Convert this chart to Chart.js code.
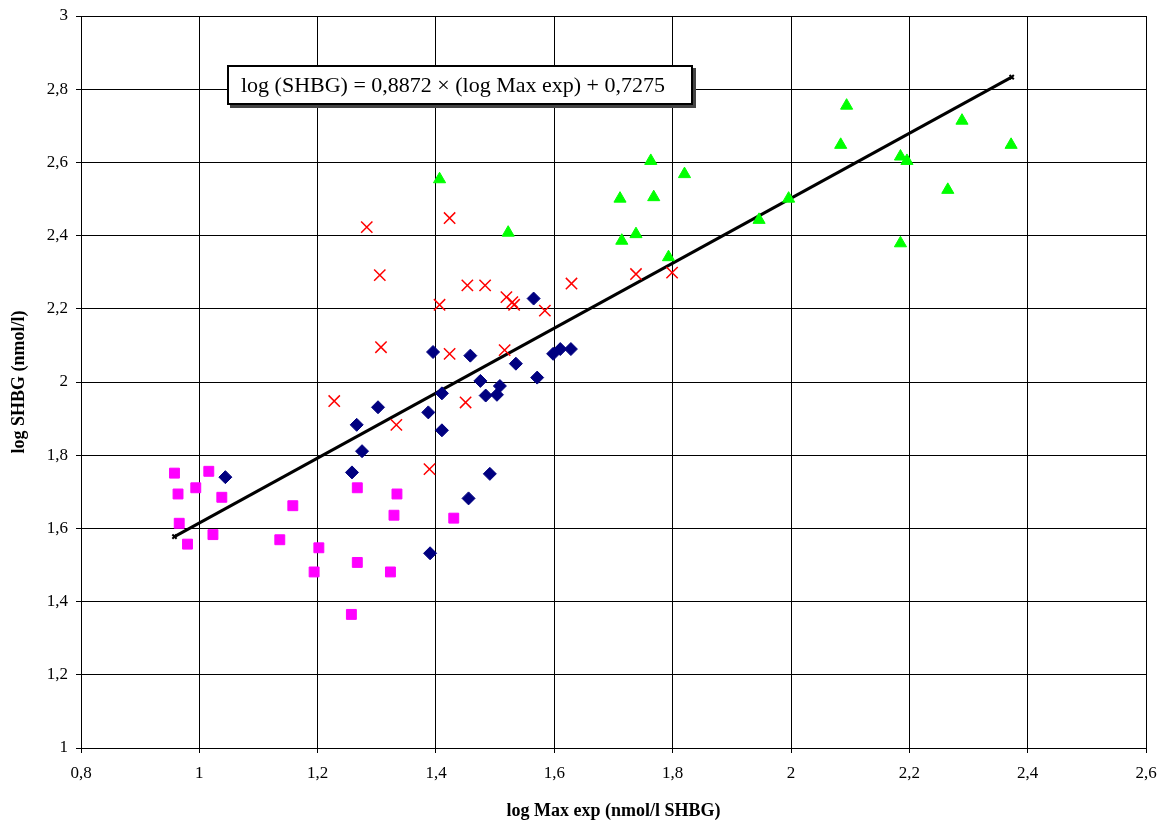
<!DOCTYPE html>
<html>
<head>
<meta charset="utf-8">
<title>log SHBG vs log Max exp</title>
<script src="https://cdn.jsdelivr.net/npm/chart.js@4.4.1/dist/chart.umd.min.js"></script>
<style>
  body { margin: 0; background: #fff; }
  #wrap { position: relative; width: 1165px; height: 823px; }
  #equation {
    position: absolute; left: 227px; top: 65px;
    width: 466px; height: 40px; box-sizing: border-box;
    border: 2px solid #000; background: #fff;
    box-shadow: 3px 3px 0 #444;
    font: 22px "Liberation Serif", "Times New Roman", serif;
    line-height: 36px; padding-left: 12px; white-space: nowrap;
  }
</style>
</head>
<body>
<div id="wrap">
  <canvas id="chart" width="1165" height="823"></canvas>
  <div id="equation">log (SHBG) = 0,8872 × (log Max exp) + 0,7275</div>
</div>
<script>
// squares (magenta)
const squaresX = [0.958, 1.016, 0.994, 0.964, 1.038, 1.158, 1.267, 1.334, 1.329, 0.966,
                  0.980, 1.023, 1.136, 1.202, 1.267, 1.194, 1.323, 1.257, 1.430];
const squaresY = [1.751, 1.756, 1.711, 1.694, 1.685, 1.662, 1.711, 1.694, 1.636, 1.614,
                  1.557, 1.583, 1.569, 1.547, 1.507, 1.481, 1.481, 1.365, 1.628];

// diamonds (navy)
const diamondsX = [1.044, 1.258, 1.275, 1.266, 1.302, 1.387, 1.395, 1.410, 1.410, 1.390,
                   1.458, 1.455, 1.475, 1.484, 1.491, 1.503, 1.508, 1.535, 1.565, 1.571,
                   1.598, 1.610, 1.628];
const diamondsY = [1.740, 1.753, 1.811, 1.883, 1.931, 1.917, 2.082, 1.969, 1.868, 1.532,
                   2.072, 1.682, 2.003, 1.963, 1.749, 1.965, 1.989, 2.050, 2.228, 2.012,
                   2.077, 2.090, 2.090];

// crosses (red)
const crossesX = [1.228, 1.283, 1.305, 1.307, 1.333, 1.389, 1.406, 1.423, 1.423, 1.450,
                  1.453, 1.483, 1.516, 1.519, 1.529, 1.532, 1.584, 1.629, 1.738, 1.799];
const crossesY = [1.948, 2.423, 2.292, 2.095, 1.883, 1.762, 2.211, 2.448, 2.077, 1.944,
                  2.264, 2.264, 2.087, 2.232, 2.218, 2.211, 2.195, 2.269, 2.295, 2.299];

// triangles (green)
const trianglesX = [1.406, 1.522, 1.711, 1.714, 1.738, 1.763, 1.768, 1.793, 1.820, 1.946,
                    1.996, 2.084, 2.094, 2.185, 2.196, 2.185, 2.265, 2.289, 2.372];
const trianglesY = [2.554, 2.408, 2.501, 2.386, 2.404, 2.604, 2.505, 2.341, 2.568, 2.443,
                    2.501, 2.648, 2.755, 2.616, 2.604, 2.379, 2.525, 2.714, 2.648];

// regression: log(SHBG) = slope * log(Max exp) + intercept
const slope = 0.8872;
const intercept = 0.7275;
const trendX = [0.958, 2.373];

const xTicks = [0.8, 1, 1.2, 1.4, 1.6, 1.8, 2, 2.2, 2.4, 2.6];
const yTicks = [1, 1.2, 1.4, 1.6, 1.8, 2, 2.2, 2.4, 2.6, 2.8, 3];

const toPoints = (xs, ys) => xs.map((x, i) => ({ x, y: ys[i] }));
const fmt = v => String(Number(v.toFixed(1))).replace('.', ',');

const serif = '"Liberation Serif", "Times New Roman", serif';

new Chart(document.getElementById('chart'), {
  type: 'scatter',
  data: {
    datasets: [
      {
        data: toPoints(crossesX, crossesY),
        pointStyle: 'crossRot', pointRadius: 8,
        borderColor: '#ff0000', borderWidth: 1.5, backgroundColor: '#ff0000'
      },
      {
        data: toPoints(diamondsX, diamondsY),
        pointStyle: 'rectRot', pointRadius: 6.5,
        backgroundColor: '#000080', borderColor: '#000080', borderWidth: 1
      },
      {
        data: toPoints(squaresX, squaresY),
        pointStyle: 'rect', pointRadius: 7,
        backgroundColor: '#ff00ff', borderColor: '#ff00ff', borderWidth: 1
      },
      {
        data: toPoints(trianglesX, trianglesY),
        pointStyle: 'triangle', pointRadius: 7,
        backgroundColor: '#00ff00', borderColor: '#00ff00', borderWidth: 1
      },
      {
        data: trendX.map(x => ({ x, y: slope * x + intercept })),
        showLine: true, borderColor: '#000', borderWidth: 3,
        pointStyle: 'crossRot', pointRadius: 3, pointBorderWidth: 2,
        pointBorderColor: '#000'
      }
    ]
  },
  options: {
    responsive: false,
    animation: false,
    layout: { padding: { top: 16, right: 19, left: 0, bottom: 0 } },
    plugins: { legend: { display: false }, tooltip: { enabled: false } },
    scales: {
      x: {
        type: 'linear', min: 0.8, max: 2.6,
        afterBuildTicks: s => { s.ticks = xTicks.map(v => ({ value: v })); },
        afterFit: s => { s.height = 75; s.paddingLeft = 0; s.paddingRight = 0; },
        grid: { color: '#000', lineWidth: 1, tickLength: 5 },
        border: { color: '#000', width: 1 },
        ticks: { callback: fmt, color: '#000', padding: 10, maxRotation: 0,
                 font: { family: serif, size: 17 } },
        title: { display: true, text: 'log Max exp (nmol/l SHBG)', color: '#000',
                 padding: { top: 0, bottom: 1 },
                 font: { family: serif, size: 18, weight: 'bold' } }
      },
      y: {
        type: 'linear', min: 1, max: 3,
        afterBuildTicks: s => { s.ticks = yTicks.map(v => ({ value: v })); },
        afterFit: s => { s.width = 81; s.paddingTop = 0; s.paddingBottom = 0; },
        grid: { color: '#000', lineWidth: 1, tickLength: 5 },
        border: { color: '#000', width: 1 },
        ticks: { callback: fmt, color: '#000', padding: 8,
                 font: { family: serif, size: 17 } },
        title: { display: true, text: 'log SHBG (nmol/l)', color: '#000',
                 padding: { top: 9, bottom: 0 },
                 font: { family: serif, size: 18, weight: 'bold' } }
      }
    }
  }
});
</script>
</body>
</html>
